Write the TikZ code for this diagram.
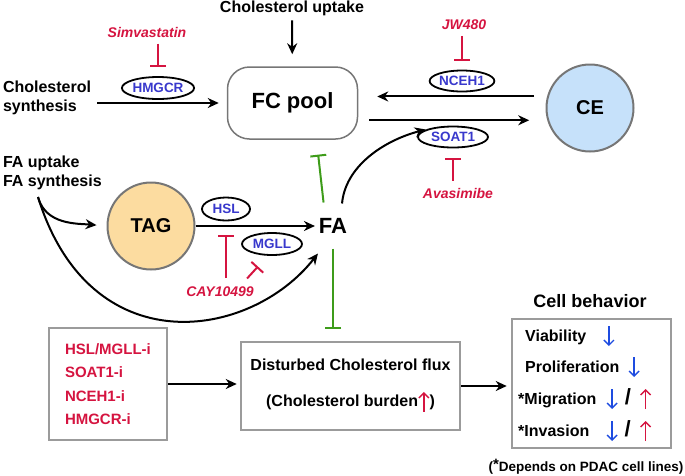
\documentclass[tikz,border=0pt]{standalone}
\usepackage{fontspec}
\setmainfont{Liberation Sans}
\usetikzlibrary{arrows.meta}
\usetikzlibrary{shapes.geometric}
\definecolor{drugred}{RGB}{213,20,64}
\definecolor{enzblue}{RGB}{56,56,204}
\definecolor{downblue}{RGB}{30,76,224}
\definecolor{blockgreen}{RGB}{62,156,26}
\definecolor{frameGray}{RGB}{155,155,155}
\definecolor{poolGray}{RGB}{118,118,118}
\definecolor{tagOrange}{RGB}{252,220,160}
\definecolor{ceBlue}{RGB}{198,225,250}
\tikzset{geometry/.style={line width=2pt,>={Stealth[length=11pt,width=10pt]}}}
\tikzset{flux/.style={->}}
\tikzset{block/.style={-{Bar[width=16pt]}}}
\tikzset{lbl/.style={font=\fontsize{16}{19}\selectfont\bfseries,inner sep=2pt}}
\tikzset{drug/.style={font=\fontsize{14}{16}\selectfont\bfseries\itshape,text=drugred,inner sep=2pt}}
\tikzset{enzyme/.style={ellipse,draw=black,line width=1.8pt,inner sep=0pt,font=\fontsize{13.5}{16}\selectfont\bfseries,text=enzblue}}
\tikzset{pool/.style={draw=poolGray,line width=1.5pt,rounded corners=22pt,minimum width=130pt,minimum height=72pt}}
\tikzset{metabolite/.style={circle,draw=poolGray,line width=2pt,minimum size=87pt,inner sep=0pt,font=\fontsize{20}{24}\selectfont\bfseries}}
\tikzset{boxframe/.style={draw=frameGray,line width=2.5pt}}
\newcommand{\upmark}{\tikz[baseline=0pt]\draw[drugred,line width=1.4pt,-{Straight Barb[length=5pt,width=10pt]}] (0pt,-5pt) -- (0pt,15pt);}
\newcommand{\dnmark}{\tikz[baseline=0pt]\draw[downblue,line width=1.4pt,-{Straight Barb[length=5pt,width=10pt]}] (0pt,15pt) -- (0pt,-5pt);}

\begin{document}
\begin{tikzpicture}[x=1pt,y=-1pt,geometry]
\useasboundingbox (0,0) rectangle (685,475);

% free cholesterol
\node[lbl] (uptake) at (292,8) {Cholesterol uptake};
\node[pool,font=\fontsize{22}{26}\selectfont\bfseries] (fc) at (292.5,103) {FC pool};
\node[lbl,align=left,anchor=west] (synth) at (0,98) {Cholesterol\\synthesis};
\draw[flux,shorten <=2pt,shorten >=12pt] (uptake) -- (fc);
\draw[flux,shorten <=3pt,shorten >=8pt] (synth.east |- fc.west) -- (fc.west);
\node[enzyme,minimum width=70pt,minimum height=22pt] (hmgcr) at (158,88) {HMGCR};
\node[drug] (simva) at (147,32.5) {Simvastatin};
\draw[drugred,block,shorten <=3pt,shorten >=9pt] (simva.south -| hmgcr) -- (hmgcr.north);

% esterified cholesterol
\node[metabolite,fill=ceBlue] (ce) at (590,108) {CE};
\draw[flux,shorten <=13pt,shorten >=19pt] (ce.165) -- (ce.165 -| fc.east);
\draw[flux,shorten <=11pt,shorten >=18pt] (fc.east |- ce.196) -- (ce.196);
\node[enzyme,minimum width=64pt,minimum height=21pt] (nceh) at (462,81) {NCEH1};
\node[drug] (jw) at (464,25) {JW480};
\draw[drugred,block,shorten <=3pt,shorten >=8.5pt] (jw.south -| nceh) -- (nceh.north);
\node[enzyme,minimum width=70pt,minimum height=21pt] (soat) at (453,137) {SOAT1};
\node[drug] (avas) at (458,193) {Avasimibe};
\draw[drugred,block,shorten <=4pt,shorten >=9.5pt] (avas.north -| soat) -- (soat.south);

% fatty acids
\node[metabolite,fill=tagOrange] (tag) at (151,226) {TAG};
\node[lbl,font=\fontsize{22}{26}\selectfont\bfseries] (fa) at (333,226) {FA};
\draw[flux,shorten >=1pt] (tag) -- (fa);
\node[enzyme,minimum width=48pt,minimum height=23pt] (hsl) at (226,209) {HSL};
\node[enzyme,minimum width=60pt,minimum height=22pt] (mgll) at (272,244) {MGLL};
\node[drug] (cay) at (220,292) {CAY10499};
\draw[drugred,block,shorten <=6pt] (cay.north -| hsl) -- ([yshift=-14pt]hsl.south);
\draw[drugred,block,shorten <=7.5pt,shorten >=14.5pt] ([xshift=22pt]cay.north) -- (mgll.250);

\node[lbl,align=left,anchor=west] (fain) at (0,173) {FA uptake\\FA synthesis};
\coordinate (fork) at (38,197);
\draw[flux,shorten >=10pt] (fork) to[out=-75,in=175] (tag.west);
\draw[flux] (fork) .. controls (90,365) and (250,340) .. ([xshift=2pt,yshift=-17pt]fa.south west);
\draw[flux,shorten <=12pt,shorten >=2pt] ([xshift=8pt]fa.north) to[out=85,in=195] (soat.north west);
\draw[blockgreen,block,shorten <=13pt,shorten >=15pt] ([xshift=-8pt]fa.north) -- ([xshift=24pt]fc.south);

% outcome
\node[boxframe,minimum width=118pt,minimum height=112pt,text width=86pt,inner xsep=16pt,align=left,font=\fontsize{15}{23.5}\selectfont\bfseries,text=drugred] (inh) at (108,384) {HSL/MGLL-i\\SOAT1-i\\NCEH1-i\\HMGCR-i};
\node[boxframe,minimum width=219pt,minimum height=88pt,align=center,font=\fontsize{16}{36}\selectfont\bfseries] (dist) at (350.5,386) {Disturbed Cholesterol flux\\(Cholesterol burden\upmark)};
\draw[blockgreen,block,shorten <=12pt,shorten >=12pt] (fa.south) -- (fa.south |- dist.north);
\draw[flux,shorten >=3pt] (inh.east) -- (inh.east -| dist.west);

\node[lbl,font=\fontsize{18}{22}\selectfont\bfseries] (celltitle) at (590,301) {Cell behavior};
\node[boxframe,minimum width=159pt,minimum height=129pt] (cellbox) at (591.5,383.5) {};
\draw[flux,shorten >=4pt] (dist.east) -- (dist.east -| cellbox.west);
\node[lbl,anchor=base west,inner sep=0pt] (viab) at (525,341) {Viability\hspace{17pt}\dnmark};
\node[lbl,anchor=base west,inner sep=0pt] (prolif) at (525,372) {Proliferation\hspace{9pt}\dnmark};
\node[lbl,anchor=base west,inner sep=0pt] (migr) at (518,404) {*Migration\hspace{10pt}\dnmark\hspace{7pt}{\fontsize{22}{22}\selectfont/}\hspace{9pt}\upmark};
\node[lbl,anchor=base west,inner sep=0pt] (inva) at (518,436) {*Invasion\hspace{17pt}\dnmark\hspace{7pt}{\fontsize{22}{22}\selectfont/}\hspace{9pt}\upmark};
\node[font=\fontsize{13.5}{16}\selectfont\bfseries] (note) at (586,467) {(\raisebox{2pt}{\fontsize{15}{15}\selectfont*}Depends on PDAC cell lines)};
\end{tikzpicture}
\end{document}
